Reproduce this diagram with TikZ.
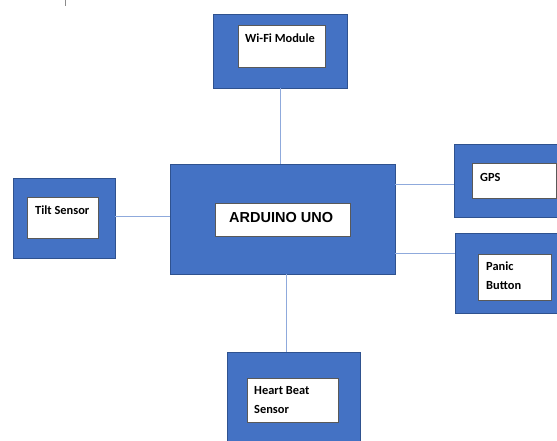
\documentclass[tikz,border=0pt]{standalone}
\usepackage{fontspec}
\setmainfont{Carlito}
\newfontfamily\arialfont{Liberation Sans}
\definecolor{boxblue}{HTML}{4472C4}
\definecolor{edgeblue}{HTML}{2F528F}
\definecolor{linkblue}{HTML}{8FAADC}
\begin{document}
\begin{tikzpicture}[x=1pt,y=-1pt,
    outerbox/.style={draw=edgeblue,line width=0.6pt,fill=boxblue,inner sep=0pt},
    innerbox/.style={draw=black!65,line width=0.6pt,fill=white,inner sep=0pt},
    tag/.style={font=\bfseries\fontsize{12.4}{19}\selectfont,align=left,inner sep=0pt,anchor=base west},
    link/.style={draw=linkblue,line width=0.8pt}]
        \fill[white] (0,0) rectangle (557,441);
        \clip (0,0) rectangle (557,441);
        \draw[black!45,line width=0.8pt] (65,0)--(65,6);
        \node[outerbox,minimum width=134pt,minimum height=74pt] (wifi) at (280,51){};
        \node[innerbox,minimum width=87pt,minimum height=42pt] (wifiin) at (281.5,46){};
        \node[tag] (wifitxt) at (245,43){Wi-Fi Module};
        \node[outerbox,minimum width=225pt,minimum height=110pt] (ard) at (282.5,219){};
        \node[innerbox,minimum width=135pt,minimum height=33pt] (ardin) at (282.5,219.5){};
        \node[tag,font=\arialfont\bfseries\fontsize{14.5}{17}\selectfont] (ardtxt) at (229,222){ARDUINO UNO};
        \node[outerbox,minimum width=102pt,minimum height=80pt] (tilt) at (64,218){};
        \node[innerbox,minimum width=71pt,minimum height=41pt] (tiltin) at (62.5,217.5){};
        \node[tag] (tilttxt) at (35,214){Tilt Sensor};
        \node[outerbox,minimum width=120pt,minimum height=73pt] (gps) at (514,180.5){};
        \node[innerbox,minimum width=84pt,minimum height=35pt] (gpsin) at (514,180.5){};
        \node[tag] (gpstxt) at (480,182){GPS};
        \node[outerbox,minimum width=119pt,minimum height=80pt] (panic) at (514.5,273){};
        \node[innerbox,minimum width=73pt,minimum height=46pt] (panicin) at (514.5,277){};
        \node[tag] (panictxt) at (486,289){Panic\\Button};
        \node[outerbox,minimum width=133pt,minimum height=96pt] (heart) at (293.5,400){};
        \node[innerbox,minimum width=91pt,minimum height=44pt] (heartin) at (292.5,400){};
        \node[tag] (hearttxt) at (254,413){Heart Beat\\Sensor};
        \coordinate (tiltend) at ([yshift=2pt]tilt.east);
        \coordinate (gpsend) at ([yshift=-3.5pt]gps.west);
        \coordinate (panicend) at ([yshift=20pt]panic.west);
        \coordinate (heartend) at ([xshift=-7.5pt]heart.north);
        \draw[link] (wifi.south)--(wifi.south |- ard.north);
        \draw[link] (tiltend)--(tiltend -| ard.west);
        \draw[link] (gpsend)--(gpsend -| ard.east);
        \draw[link] (panicend)--(panicend -| ard.east);
        \draw[link] (heartend)--(heartend |- ard.south);
    \end{tikzpicture}
\end{document}
